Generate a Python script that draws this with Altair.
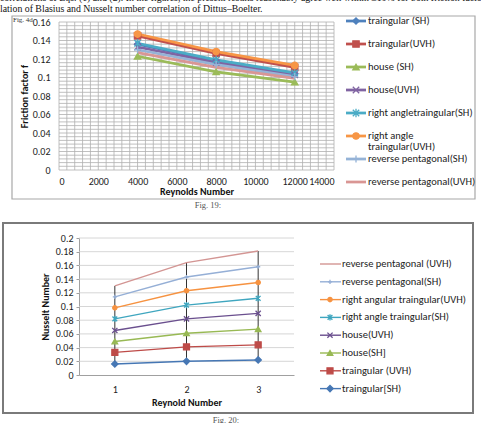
import altair as alt
import pandas as pd

SANS = "Carlito, Lato, sans-serif"
SERIF = "Liberation Serif, serif"
PAGE_W, PAGE_H = 481, 423

# ---------------- Fig. 19: friction factor ----------------
reynolds = [4000, 8000, 12000]
f_names = [
    "traingular (SH)", "traingular(UVH)", "house (SH)", "house(UVH)",
    "right angletraingular(SH)", "right angle traingular(UVH)",
    "reverse pentagonal(SH)", "reverse pentagonal(UVH)",
]
f_labels = [
    "traingular (SH)", "traingular(UVH)", "house (SH)", "house(UVH)",
    "right angletraingular(SH)", "right angle\ntraingular(UVH)",
    "reverse pentagonal(SH)", "reverse pentagonal(UVH)",
]
f_tri_sh = [0.136, 0.118, 0.104]
f_tri_uvh = [0.145, 0.126, 0.111]
f_house_sh = [0.123, 0.106, 0.095]
f_house_uvh = [0.133, 0.116, 0.103]
f_right_sh = [0.137, 0.119, 0.105]
f_right_uvh = [0.147, 0.128, 0.113]
f_rev_sh = [0.130, 0.114, 0.101]
f_rev_uvh = [0.127, 0.111, 0.099]
f_values = [f_tri_sh, f_tri_uvh, f_house_sh, f_house_uvh,
            f_right_sh, f_right_uvh, f_rev_sh, f_rev_uvh]
f_x_ticks = list(range(0, 14001, 2000))
f_x_grid = list(range(0, 14001, 400))
f_y_ticks = [round(i * 0.02, 2) for i in range(9)]
f_y_grid = [round(i * 0.004, 3) for i in range(41)]

# ---------------- Fig. 20: Nusselt number ----------------
re_index = [1, 2, 3]
nu_names = [
    "reverse pentagonal (UVH)", "reverse pentagonal(SH)",
    "right angular traingular(UVH)", "right angle traingular(SH)",
    "house(UVH)", "house(SH]", "traingular (UVH)", "traingular[SH)",
]
nu_rev_uvh = [0.130, 0.164, 0.181]
nu_rev_sh = [0.114, 0.143, 0.158]
nu_right_uvh = [0.098, 0.123, 0.135]
nu_right_sh = [0.082, 0.102, 0.112]
nu_house_uvh = [0.065, 0.082, 0.090]
nu_house_sh = [0.049, 0.061, 0.067]
nu_tri_uvh = [0.033, 0.041, 0.044]
nu_tri_sh = [0.016, 0.020, 0.022]
nu_values = [nu_rev_uvh, nu_rev_sh, nu_right_uvh, nu_right_sh,
             nu_house_uvh, nu_house_sh, nu_tri_uvh, nu_tri_sh]
nu_y_ticks = [round(i * 0.02, 2) for i in range(11)]

# surrounding page text
body_line1 = ("correlations of Eqs. (1) and (2). In the figures, the present results "
              "reasonably agree well within \u00b110% for both friction factor corre-")
body_line2 = "lation of Blasius and Nusselt number correlation of Dittus\u2013Boelter."

# marker paths for the stroked symbols
X_PATH = "M-1,-1L1,1M-1,1L1,-1"
STAR_PATH = "M-1,-1L1,1M-1,1L1,-1M0,-1.3L0,1.3"
PLUS_PATH = "M-1.1,0L1.1,0M0,-1.1L0,1.1"


def long_table(names, xs, series_values, xname, yname):
    rows = []
    for name, vals in zip(names, series_values):
        for x, v in zip(xs, vals):
            rows.append({"series": name, xname: x, yname: v})
    return pd.DataFrame(rows)


one_row = pd.DataFrame({"k": [0]})


def box(x1, x2, y1, y2, **kw):
    return alt.Chart(one_row).mark_rect(**kw).encode(
        x=alt.value(x1), x2=alt.value(x2), y=alt.value(y1), y2=alt.value(y2)
    )


def note(x, y, text, **kw):
    return alt.Chart(one_row).mark_text(**kw).encode(
        x=alt.value(x), y=alt.value(y), text=alt.value(text)
    )


# ======================= Fig. 19 panel =======================
df1 = long_table(f_names, reynolds, f_values, "re", "f")
colors1 = ["#4F81BD", "#C0504D", "#9BBB59", "#8064A2",
           "#4BACC6", "#F79646", "#95B3D7", "#D99694"]
shapes1 = ["diamond", "square", "triangle-up", X_PATH,
           STAR_PATH, "circle", PLUS_PATH, "circle"]
sizes1 = [40, 42, 48, 42, 48, 64, 44, 10]
with_marker1 = f_names[:7]

xs1 = alt.Scale(domain=[0, 14000], range=[59, 334], nice=False, zero=False)
ys1 = alt.Scale(domain=[0, 0.16], range=[170, 22], nice=False, zero=False)
col1 = alt.Scale(domain=f_names, range=colors1)
shp1 = alt.Scale(domain=f_names, range=shapes1)
siz1 = alt.Scale(domain=f_names, range=sizes1)

x_axis1 = alt.Axis(
    orient="bottom", offset=170 - PAGE_H, values=f_x_ticks, format="d",
    grid=False, ticks=False, domain=False, labelOverlap=False,
    labelFontSize=10, labelPadding=6, labelColor="#222",
    title="Reynolds Number", titleFontSize=10, titleFontWeight="bold",
    titlePadding=0, titleColor="#111",
)
y_axis1 = alt.Axis(
    orient="left", offset=-59, values=f_y_ticks, format=".2~f",
    grid=False, ticks=False, domain=False, labelOverlap=False,
    labelFontSize=10, labelPadding=9, labelColor="#222",
    title="Friction factor f", titleFontSize=10, titleFontWeight="bold",
    titlePadding=3, titleColor="#111",
)

grid1_v = alt.Chart(pd.DataFrame({"gx": f_x_grid})).mark_rule(
    color="#b0b0b0", strokeWidth=0.8
).encode(
    x=alt.X("gx:Q", scale=xs1, axis=None),
    y=alt.Y(datum=0, scale=ys1, axis=None), y2=alt.Y2(datum=0.16),
)
grid1_h = alt.Chart(pd.DataFrame({"gy": f_y_grid})).mark_rule(
    color="#b0b0b0", strokeWidth=0.8
).encode(
    y=alt.Y("gy:Q", scale=ys1, axis=None),
    x=alt.X(datum=0, scale=xs1, axis=None), x2=alt.X2(datum=14000),
)

lines1 = alt.Chart(df1).mark_line(strokeWidth=2.75).encode(
    x=alt.X("re:Q", scale=xs1, axis=x_axis1),
    y=alt.Y("f:Q", scale=ys1, axis=y_axis1),
    color=alt.Color("series:N", scale=col1, legend=None),
)
points1 = alt.Chart(df1).transform_filter(
    alt.FieldOneOfPredicate(field="series", oneOf=with_marker1)
).mark_point(filled=True, opacity=1, strokeWidth=1.3).encode(
    x=alt.X("re:Q", scale=xs1, axis=None),
    y=alt.Y("f:Q", scale=ys1, axis=None),
    color=alt.Color("series:N", scale=col1, legend=None),
    stroke=alt.Stroke("series:N", scale=col1, legend=None),
    shape=alt.Shape("series:N", scale=shp1, legend=None),
    size=alt.Size("series:N", scale=siz1, legend=None),
)

# legend rows, laid out in pixels
leg1 = pd.DataFrame({"series": f_names, "label": f_labels, "idx": range(len(f_names))})
leg1_base = alt.Chart(leg1).transform_calculate(ly="21 + 23 * datum.idx")
leg1_lines = leg1_base.mark_rule(strokeWidth=2.75).encode(
    x=alt.value(346), x2=alt.value(366),
    y=alt.Y("ly:Q", scale=None, axis=None),
    color=alt.Color("series:N", scale=col1, legend=None),
)
leg1_points = leg1_base.transform_filter(
    alt.FieldOneOfPredicate(field="series", oneOf=with_marker1)
).mark_point(filled=True, opacity=1, strokeWidth=1.3).encode(
    x=alt.value(356),
    y=alt.Y("ly:Q", scale=None, axis=None),
    color=alt.Color("series:N", scale=col1, legend=None),
    stroke=alt.Stroke("series:N", scale=col1, legend=None),
    shape=alt.Shape("series:N", scale=shp1, legend=None),
    size=alt.Size("series:N", scale=siz1, legend=None),
)
leg1_text = leg1_base.mark_text(
    align="left", baseline="middle", font=SANS, fontSize=10.5,
    lineBreak="\n", lineHeight=11, color="#222",
).encode(
    x=alt.value(368),
    y=alt.Y("ly:Q", scale=None, axis=None),
    text="label:N",
)

# ======================= Fig. 20 panel =======================
df2 = long_table(nu_names, re_index, nu_values, "re", "nu")
colors2 = ["#D39593", "#95AFD6", "#F69240", "#3FA6BF",
           "#6A4F8E", "#98B954", "#BE4B48", "#4677B4"]
shapes2 = ["circle", PLUS_PATH, "circle", STAR_PATH,
           X_PATH, "triangle-up", "square", "diamond"]
sizes2 = [10, 40, 64, 48, 52, 56, 64, 40]
widths2 = [1.4, 1.4, 2.25, 2.0, 2.25, 2.0, 2.25, 2.25]
with_marker2 = nu_names[1:]

xs2 = alt.Scale(type="point", domain=re_index, range=[79, 294], padding=0.5)
xs2_lin = alt.Scale(domain=[0.5, 3.5], range=[79, 294], nice=False, zero=False)
ys2 = alt.Scale(domain=[0, 0.2], range=[375, 238], nice=False, zero=False)
col2 = alt.Scale(domain=nu_names, range=colors2)
shp2 = alt.Scale(domain=nu_names, range=shapes2)
siz2 = alt.Scale(domain=nu_names, range=sizes2)
wid2 = alt.Scale(domain=nu_names, range=widths2)

x_axis2 = alt.Axis(
    orient="bottom", offset=375 - PAGE_H, labelAngle=0, ticks=False, grid=False,
    domainColor="#a0a0a0", labelFontSize=10, labelPadding=9, labelColor="#222",
    title="Reynold Number", titleFontSize=10, titleFontWeight="bold",
    titlePadding=3, titleColor="#111",
)
y_axis2 = alt.Axis(
    orient="left", offset=-79, values=nu_y_ticks, format=".2~f", grid=False,
    domainColor="#a0a0a0", tickColor="#a0a0a0", tickSize=3, labelOverlap=False,
    labelFontSize=10, labelPadding=3, labelColor="#222",
    title="Nusselt Number", titleFontSize=10, titleFontWeight="bold",
    titlePadding=5, titleColor="#111",
)

grid2_h = alt.Chart(pd.DataFrame({"gy": nu_y_ticks[1:]})).mark_rule(
    color="#cccccc", strokeWidth=0.8
).encode(
    y=alt.Y("gy:Q", scale=ys2, axis=None),
    x=alt.X(datum=0.5, scale=xs2_lin, axis=None), x2=alt.X2(datum=3.5),
)
hilo2 = alt.Chart(df2).mark_rule(color="#333333", strokeWidth=1).encode(
    x=alt.X("re:O", scale=xs2, axis=None),
    y=alt.Y("min(nu):Q", scale=ys2, axis=None),
    y2="max(nu):Q",
)
lines2 = alt.Chart(df2).mark_line().encode(
    x=alt.X("re:O", scale=xs2, axis=x_axis2),
    y=alt.Y("nu:Q", scale=ys2, axis=y_axis2),
    color=alt.Color("series:N", scale=col2, legend=None),
    strokeWidth=alt.StrokeWidth("series:N", scale=wid2, legend=None),
)
points2 = alt.Chart(df2).transform_filter(
    alt.FieldOneOfPredicate(field="series", oneOf=with_marker2)
).mark_point(filled=True, opacity=1, strokeWidth=1.3).encode(
    x=alt.X("re:O", scale=xs2, axis=None),
    y=alt.Y("nu:Q", scale=ys2, axis=None),
    color=alt.Color("series:N", scale=col2, legend=None),
    stroke=alt.Stroke("series:N", scale=col2, legend=None),
    shape=alt.Shape("series:N", scale=shp2, legend=None),
    size=alt.Size("series:N", scale=siz2, legend=None),
)

leg2 = pd.DataFrame({"series": nu_names, "idx": range(len(nu_names))})
leg2_base = alt.Chart(leg2).transform_calculate(ly="264 + 17.8 * datum.idx")
leg2_lines = leg2_base.mark_rule().encode(
    x=alt.value(320), x2=alt.value(341),
    y=alt.Y("ly:Q", scale=None, axis=None),
    color=alt.Color("series:N", scale=col2, legend=None),
    strokeWidth=alt.StrokeWidth("series:N", scale=wid2, legend=None),
)
leg2_points = leg2_base.transform_filter(
    alt.FieldOneOfPredicate(field="series", oneOf=with_marker2)
).mark_point(filled=True, opacity=1, strokeWidth=1.3).encode(
    x=alt.value(330),
    y=alt.Y("ly:Q", scale=None, axis=None),
    color=alt.Color("series:N", scale=col2, legend=None),
    stroke=alt.Stroke("series:N", scale=col2, legend=None),
    shape=alt.Shape("series:N", scale=shp2, legend=None),
    size=alt.Size("series:N", scale=siz2, legend=None),
)
leg2_text = leg2_base.mark_text(
    align="left", baseline="middle", font=SANS, fontSize=10.5, color="#222",
).encode(
    x=alt.value(342),
    y=alt.Y("ly:Q", scale=None, axis=None),
    text="series:N",
)

# ======================= page =======================
chart = alt.layer(
    note(0, -2.5, body_line1, align="left", baseline="middle", font=SERIF,
         fontSize=9.8, color="#111"),
    note(0, 9, body_line2, align="left", baseline="middle", font=SERIF,
         fontSize=9.8, color="#111"),
    box(12, 475, 16, 199, filled=False, stroke="#a8a8a8", strokeWidth=1.2),
    note(13, 20, "Fig. 4d", align="left", baseline="middle", font=SERIF,
         fontSize=7, color="#333"),
    note(208, 205, "Fig. 19:", align="center", baseline="middle", font=SERIF,
         fontSize=8.5, color="#555"),
    grid1_v, grid1_h, lines1, points1, leg1_lines, leg1_points, leg1_text,
    box(3, 473, 223, 413, filled=False, stroke="#7a7a7a", strokeWidth=2),
    note(226, 420, "Fig. 20:", align="center", baseline="middle", font=SERIF,
         fontSize=8.5, color="#555"),
    grid2_h, hilo2, lines2, points2, leg2_lines, leg2_points, leg2_text,
).resolve_scale(
    x="independent", y="independent", color="independent",
    stroke="independent", shape="independent", size="independent",
    strokeWidth="independent",
).properties(
    width=PAGE_W, height=PAGE_H, padding=0,
    autosize=alt.AutoSizeParams(type="none"),
).configure(
    background="white", font=SANS,
).configure_view(stroke=None).configure_axis(labelFont=SANS, titleFont=SANS)

chart.save("out.html", embed_options={"renderer": "svg", "actions": False})
